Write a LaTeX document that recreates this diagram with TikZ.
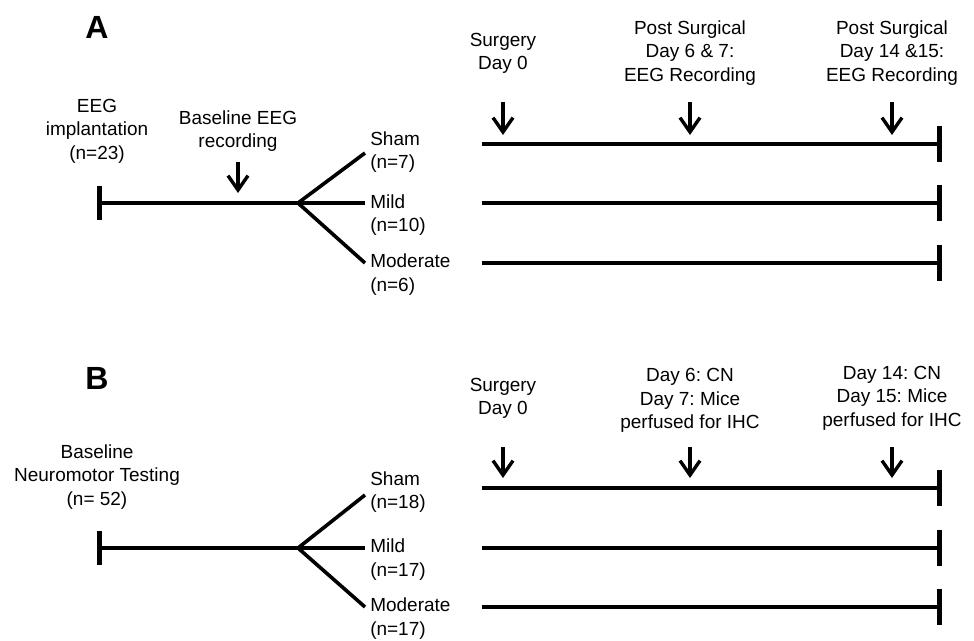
\documentclass[tikz,border=0pt]{standalone}
\usepackage{fontspec}
\setmainfont{Liberation Sans}
\usetikzlibrary{arrows.meta,positioning}
\frenchspacing

\begin{document}
\begin{tikzpicture}[
    x=0.025cm, y=-0.025cm,
    tline/.style={line width=0.9mm, -{Bar[width=9mm, line width=1.2mm]}},
    bartl/.style={line width=0.9mm, {Bar[width=8.5mm, line width=1.2mm]}-},
    brk/.style={line width=0.9mm},
    evt/.style={line width=0.85mm, -{Straight Barb[length=3.6mm,width=5mm]}},
    lbl/.style={font=\fontsize{13.5}{16.6}\selectfont, align=center, inner sep=0pt},
    grp/.style={lbl, align=left, anchor=west},
    panel/.style={font=\fontsize{22.8}{24}\selectfont\bfseries, inner sep=0pt}
]
\useasboundingbox (0,0) rectangle (974,640);

% ---------- panel A ----------
\node[panel] (pA) at (97, 27) {A};
\node[lbl] (implA) at (97, 131) {EEG\\implantation\\(n=23)};
\node[lbl] (baseA) at (238, 131) {Baseline EEG\\recording};

\coordinate (startA) at (97, 203);
\coordinate (splitA) at (298, 203);
\coordinate (shamAend) at (365, 153);
\coordinate (mildAend) at (365, 203);
\coordinate (modAend) at (365, 263);
\draw[bartl] (startA) -- (splitA);
\draw[brk] (splitA) -- (shamAend);
\draw[brk] (splitA) -- (mildAend);
\draw[brk] (splitA) -- (modAend);
\coordinate (recAtop) at (238, 162);
\coordinate (recAbot) at (238, 193);
\draw[evt] (recAtop) -- (recAbot);

\node[grp] (shamA) at (370, 152) {Sham\\(n=7)};
\node[grp] (mildA) at (370, 215) {Mild\\(n=10)};
\node[grp] (modA) at (370, 274.5) {Moderate\\(n=6)};

\foreach \g/\y in {sham/144, mild/203, mod/263} {
  \coordinate (\g A-s) at (482, \y);
  \coordinate (\g A-e) at (942, \y);
  \draw[tline] (\g A-s) -- (\g A-e);
}

\node[lbl] (surgA) at (503, 53.5) {Surgery\\Day 0};
\node[lbl] (wk1A) at (690, 53) {Post Surgical\\Day 6 \& 7:\\EEG Recording};
\node[lbl] (wk2A) at (892, 53) {Post Surgical\\Day 14 \&15:\\EEG Recording};
\foreach \n/\x in {s/503, m/690, e/892} {
  \coordinate (upA\n) at (\x, 102);
  \coordinate (dnA\n) at (\x, 135);
  \draw[evt] (upA\n) -- (dnA\n);
}

% ---------- panel B ----------
\node[panel] (pB) at (97, 378) {B};
\node[lbl] (neuroB) at (97, 477) {Baseline\\Neuromotor Testing\\(n= 52)};

\coordinate (startB) at (97, 548);
\coordinate (splitB) at (298, 548);
\coordinate (shamBend) at (365, 495);
\coordinate (mildBend) at (365, 548);
\coordinate (modBend) at (365, 607);
\draw[bartl] (startB) -- (splitB);
\draw[brk] (splitB) -- (shamBend);
\draw[brk] (splitB) -- (mildBend);
\draw[brk] (splitB) -- (modBend);

\node[grp] (shamB) at (370, 492) {Sham\\(n=18)};
\node[grp] (mildB) at (370, 559.5) {Mild\\(n=17)};
\node[grp] (modB) at (370, 618.5) {Moderate\\(n=17)};

\foreach \g/\y in {sham/488, mild/548, mod/607} {
  \coordinate (\g B-s) at (482, \y);
  \coordinate (\g B-e) at (942, \y);
  \draw[tline] (\g B-s) -- (\g B-e);
}

\node[lbl] (surgB) at (503, 398.5) {Surgery\\Day 0};
\node[lbl] (wk1B) at (690, 400.5) {Day 6: CN\\Day 7: Mice\\perfused for IHC};
\node[lbl] (wk2B) at (892, 398) {Day 14: CN\\Day 15: Mice\\perfused for IHC};
\foreach \n/\x in {s/503, m/690, e/892} {
  \coordinate (upB\n) at (\x, 447);
  \coordinate (dnB\n) at (\x, 478);
  \draw[evt] (upB\n) -- (dnB\n);
}
\end{tikzpicture}
\end{document}
